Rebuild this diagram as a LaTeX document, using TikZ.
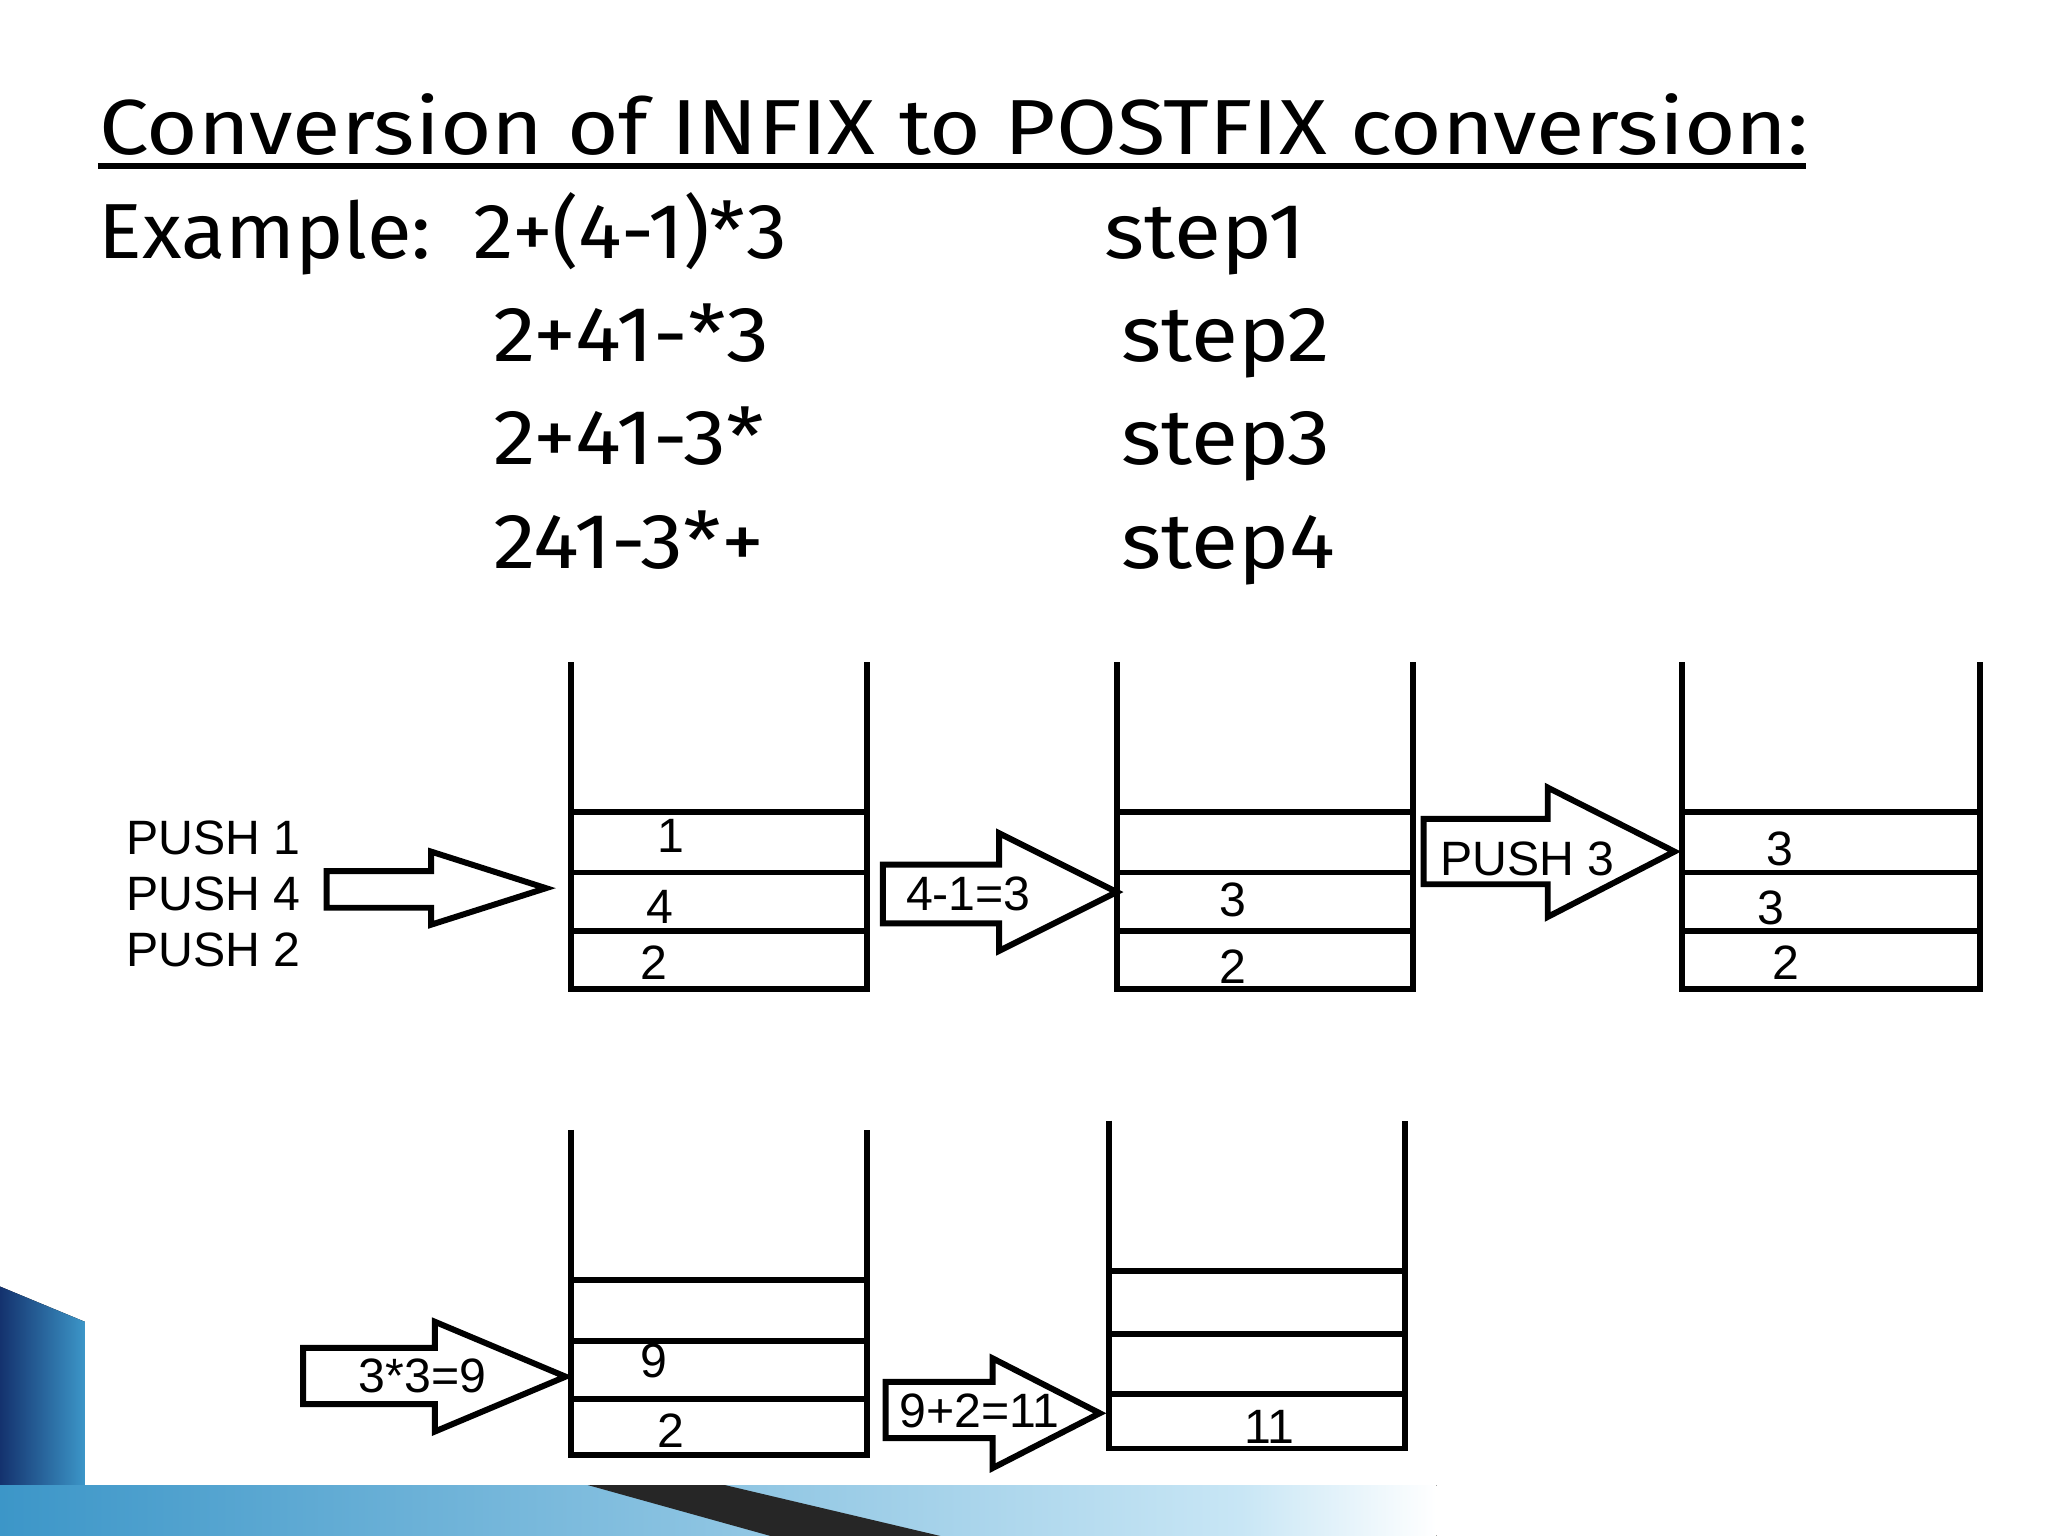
\documentclass[tikz,border=0pt]{standalone}
\usepackage{fontspec}
\setmainfont{Fira Sans}
\newfontfamily\arialf{Liberation Sans}
\definecolor{navy}{RGB}{20,50,110}
\definecolor{teal1}{RGB}{60,150,200}
\definecolor{light1}{RGB}{200,230,245}
\begin{document}
\begin{tikzpicture}[x=0.01cm,y=-0.01cm,
  big/.style={font=\fontsize{17}{20}\selectfont,anchor=base west,inner sep=0,xscale=1.1},
  lab/.style={font=\arialf\fontsize{10.5}{12}\selectfont,inner sep=0,anchor=base west},
  wall/.style={line width=1.3pt},
  barrow/.style={draw,line width=1.3pt,fill=white}]
\useasboundingbox (0,0) rectangle (1568,1176);
% background decoration
\fill[left color=navy,right color=teal1] (0,985) -- (65,1012) -- (65,1137) -- (0,1176) -- cycle;
\fill[left color=teal1,right color=light1] (0,1137) -- (950,1137) -- (950,1176) -- (0,1176) -- cycle;
\fill[right color=white,left color=light1] (950,1137) rectangle (1100,1176);
\fill[black!85] (450,1137) -- (555,1137) -- (720,1176) -- (590,1176) -- cycle;
\fill[white] (65,1012) rectangle (1568,1137);
% title
\node[big,xscale=1.03] (title) at (75,118) {Conversion of INFIX to POSTFIX conversion:};
\draw[line width=1.2pt] (75,127) -- (1383,127);
\node[big,xscale=0.95] (ex) at (75,198) {Example:};
\node[big,xscale=0.95] (e1) at (362,198) {2+(4-1)*3};
\node[big] (e2) at (377,277) {2+41-*3};
\node[big] (e3) at (377,356) {2+41-3*};
\node[big] (e4) at (377,435) {241-3*+};
\node[big] (s1) at (845,198) {step1};
\node[big] (s2) at (858,277) {step2};
\node[big] (s3) at (858,356) {step3};
\node[big] (s4) at (858,435) {step4};
% stacks
\newcommand\stk[7]{%
  \draw[wall] (#1,#3) -- (#1,#7) -- (#2,#7) -- (#2,#3);
  \draw[wall] (#1,#4) -- (#2,#4); \draw[wall] (#1,#5) -- (#2,#5); \draw[wall] (#1,#6) -- (#2,#6);}
\stk{437}{664}{507}{622}{668}{713}{757}
\stk{855}{1082}{507}{622}{668}{713}{757}
\stk{1288}{1516}{507}{622}{668}{713}{757}
\stk{437}{664}{865}{980}{1027}{1071}{1114}
\stk{849}{1076}{858}{973}{1021}{1067}{1109}
% stack contents
\node[lab] (a1) at (503,653) {1};
\node[lab] (a4) at (494,707) {4};
\node[lab] (a2) at (490,750) {2};
\node[lab] (b3) at (933,702) {3};
\node[lab] (b2) at (933,753) {2};
\node[lab] (c3a) at (1352,663) {3};
\node[lab] (c3b) at (1345,708) {3};
\node[lab] (c2) at (1356,750) {2};
\node[lab] (d9) at (490,1055) {9};
\node[lab] (d2) at (503,1108) {2};
\node[lab] (e11) at (952,1105) {11};
% push labels
\node[lab] (p1) at (96,654) {PUSH 1};
\node[lab] (p4) at (96,697) {PUSH 4};
\node[lab] (p2) at (96,740) {PUSH 2};
% block arrows
\draw[barrow] (250,667) -- (330,667) -- (330,652) -- (418,680) -- (330,708) -- (330,695) -- (250,695) -- cycle;
\draw[barrow] (676,662) -- (765,662) -- (765,638) -- (855,683) -- (765,728) -- (765,707) -- (676,707) -- cycle;
\node[lab] (q1) at (693,697) {4-1=3};
\draw[barrow] (1090,627) -- (1185,627) -- (1185,603) -- (1282,652) -- (1185,702) -- (1185,677) -- (1090,677) -- cycle;
\node[lab] (q2) at (1102,670) {PUSH 3};
\draw[barrow] (232,1032) -- (333,1032) -- (333,1012) -- (433,1054) -- (333,1096) -- (333,1075) -- (232,1075) -- cycle;
\node[lab] (q3) at (274,1066) {3*3=9};
\draw[barrow] (678,1058) -- (760,1058) -- (760,1040) -- (842,1082) -- (760,1124) -- (760,1101) -- (678,1101) -- cycle;
\node[lab] (q4) at (688,1093) {9+2=11};
\end{tikzpicture}
\end{document}
